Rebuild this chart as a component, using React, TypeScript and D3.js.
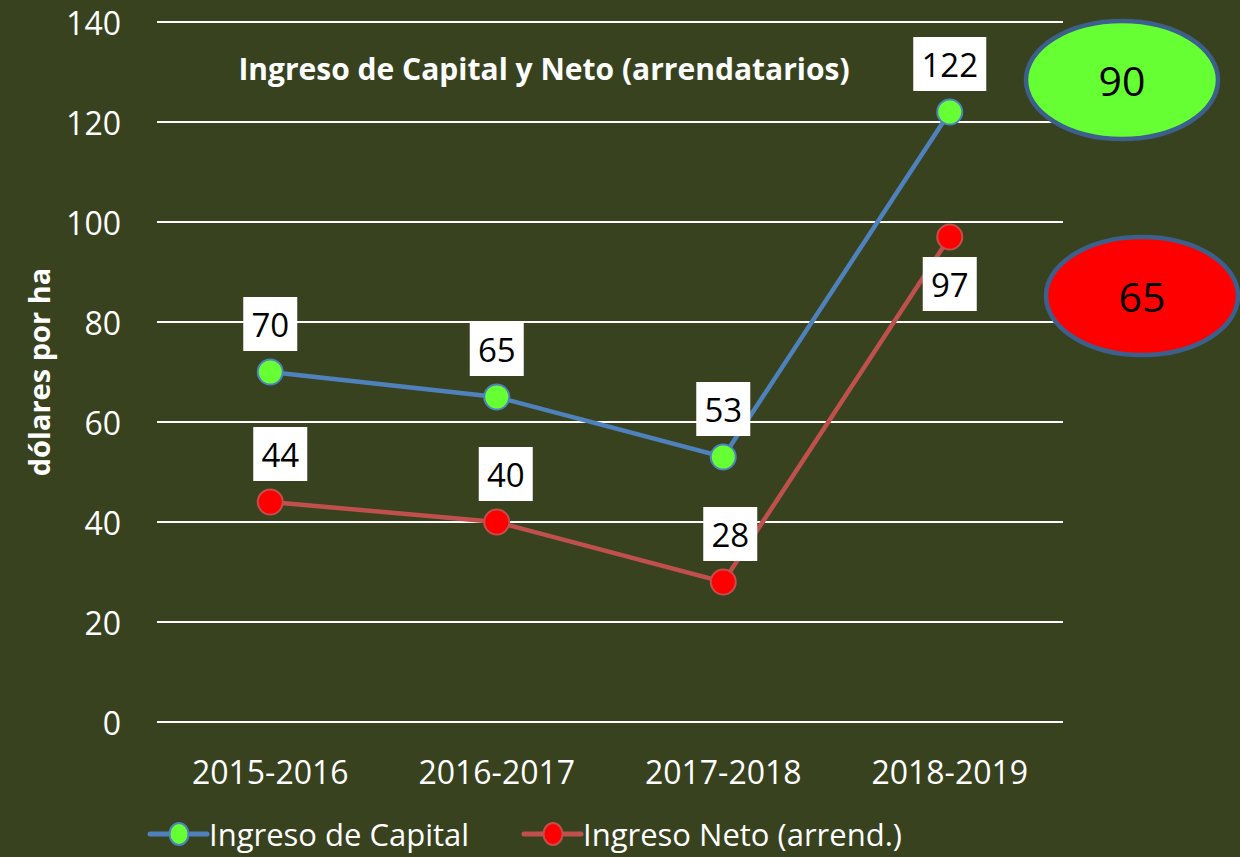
import { useEffect } from 'react'
import { line, scaleBand, scaleLinear } from 'd3'

const WIDTH = 1240
const HEIGHT = 857
const BG = '#38421f'
const FONT = '"Open Sans", "Noto Sans", sans-serif'

const periods = ['2015-2016', '2016-2017', '2017-2018', '2018-2019']
const capitalValues = [70, 65, 53, 122]
const netValues = [44, 40, 28, 97]
const yTicks = [0, 20, 40, 60, 80, 100, 120, 140]
const seriesNames = ['Ingreso de Capital', 'Ingreso Neto (arrend.)']
const calloutValues = [90, 65]

// label placement per point: 'above' | 'below', plus small sideways nudge
const capitalLabelPos = ['above', 'above', 'above', 'above']
const netLabelPos = ['above', 'above', 'above', 'below']
const netLabelNudge = [10, 9, 7, 0]

const PLOT_LEFT = 157
const PLOT_RIGHT = 1063
const PLOT_TOP = 22
const PLOT_BOTTOM = 722

type Series = {
  name: string
  values: number[]
  lineColor: string
  fill: string
  stroke: string
  labelPos: string[]
  nudge: number[]
}

export default function App() {
  useEffect(() => {
    document.body.style.margin = '0'
    document.body.style.background = BG
  }, [])

  const x = scaleBand<string>().domain(periods).range([PLOT_LEFT, PLOT_RIGHT])
  const y = scaleLinear().domain([0, 140]).range([PLOT_BOTTOM, PLOT_TOP])
  const cx = (p: string) => (x(p) ?? 0) + x.bandwidth() / 2

  const series: Series[] = [
    {
      name: seriesNames[0],
      values: capitalValues,
      lineColor: '#4f81bd',
      fill: '#66ff33',
      stroke: '#4f81bd',
      labelPos: capitalLabelPos,
      nudge: [0, 0, 0, 0],
    },
    {
      name: seriesNames[1],
      values: netValues,
      lineColor: '#c0504d',
      fill: '#ff0000',
      stroke: '#c0504d',
      labelPos: netLabelPos,
      nudge: netLabelNudge,
    },
  ]

  const path = line<number>()
    .x((_, i) => cx(periods[i]))
    .y((v) => y(v))

  const labelBox = (v: number, px: number, py: number, pos: string, key: string) => {
    const text = String(v)
    const w = text.length > 2 ? 73 : 54
    const h = 54
    const cy = pos === 'above' ? py - 48 : py + 47
    return (
      <g key={key}>
        <rect x={px - w / 2} y={cy - h / 2} width={w} height={h} fill="#ffffff" />
        <text
          x={px}
          y={cy}
          textAnchor="middle"
          dominantBaseline="central"
          fontSize={33}
          fill="#000000"
          fontFamily={FONT}
        >
          {text}
        </text>
      </g>
    )
  }

  const callouts = [
    { value: calloutValues[0], cx: 1122, cy: 80, fill: '#66ff33' },
    { value: calloutValues[1], cx: 1142, cy: 296, fill: '#ff0000' },
  ]

  return (
    <svg
      width={WIDTH}
      height={HEIGHT}
      viewBox={`0 0 ${WIDTH} ${HEIGHT}`}
      style={{ display: 'block', position: 'absolute', left: 0, top: 0, background: BG }}
      fontFamily={FONT}
    >
      <rect width={WIDTH} height={HEIGHT} fill={BG} />

      {yTicks.map((t) => (
        <g key={t}>
          <line x1={PLOT_LEFT} x2={PLOT_RIGHT} y1={y(t)} y2={y(t)} stroke="#ffffff" strokeWidth={2} />
          <text x={121} y={y(t)} textAnchor="end" dominantBaseline="central" fontSize={32} fill="#ffffff">
            {t}
          </text>
        </g>
      ))}

      {periods.map((p) => (
        <text key={p} x={cx(p)} y={771} textAnchor="middle" dominantBaseline="central" fontSize={32} fill="#ffffff">
          {p}
        </text>
      ))}

      <text
        transform={`translate(38, ${372}) rotate(-90)`}
        textAnchor="middle"
        dominantBaseline="central"
        fontSize={29}
        fontWeight="bold"
        fill="#ffffff"
      >
        dólares por ha
      </text>

      <text x={544} y={68} textAnchor="middle" dominantBaseline="central" fontSize={30} fontWeight="bold" fill="#ffffff">
        Ingreso de Capital y Neto (arrendatarios)
      </text>

      {series.map((s) => (
        <path key={s.name} d={path(s.values) ?? ''} fill="none" stroke={s.lineColor} strokeWidth={4.5} />
      ))}

      {series.map((s) =>
        s.values.map((v, i) => (
          <circle
            key={`${s.name}-${i}`}
            cx={cx(periods[i])}
            cy={y(v)}
            r={12.5}
            fill={s.fill}
            stroke={s.stroke}
            strokeWidth={2}
          />
        )),
      )}

      {series.map((s) =>
        s.values.map((v, i) =>
          labelBox(v, cx(periods[i]) + s.nudge[i], y(v), s.labelPos[i], `${s.name}-lbl-${i}`),
        ),
      )}

      {callouts.map((c) => (
        <g key={c.cx}>
          <ellipse cx={c.cx} cy={c.cy} rx={96} ry={59} fill={c.fill} stroke="#3c5f8c" strokeWidth={4.5} />
          <text x={c.cx} y={c.cy} textAnchor="middle" dominantBaseline="central" fontSize={41} fill="#000000">
            {c.value}
          </text>
        </g>
      ))}

      {series.map((s, i) => {
        const lx = i === 0 ? 150 : 524
        const ly = 834
        return (
          <g key={`leg-${s.name}`}>
            <line x1={lx} x2={lx + 57} y1={ly} y2={ly} stroke={s.lineColor} strokeWidth={5} strokeLinecap="round" />
            <ellipse cx={lx + 29} cy={ly} rx={9.5} ry={11} fill={s.fill} stroke={s.stroke} strokeWidth={2} />
            <text x={lx + 59} y={ly} dominantBaseline="central" fontSize={31} fill="#ffffff">
              {s.name}
            </text>
          </g>
        )
      })}
    </svg>
  )
}
